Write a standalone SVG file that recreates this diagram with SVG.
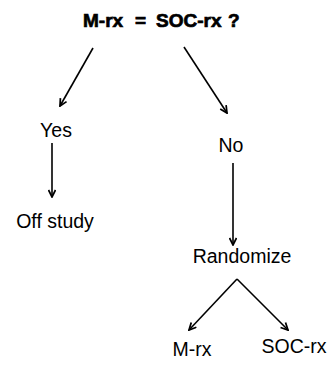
<svg xmlns="http://www.w3.org/2000/svg" width="331" height="379" viewBox="0 0 331 379">
<defs>
<style>
text{font-family:"Liberation Sans",Arial,sans-serif;font-size:19.5px;fill:#000;text-anchor:middle}
.title{font-weight:bold;font-size:19px;text-anchor:start;stroke:#000;stroke-width:0.7}
line{stroke:#000;stroke-width:1.6;fill:none;marker-end:url(#ah)}
</style>
<marker id="ah" viewBox="0 0 10 10" refX="9" refY="5" markerWidth="5.5" markerHeight="5.5" orient="auto" markerUnits="strokeWidth">
<path d="M1,1 L9,5 L1,9" fill="none" stroke="#000" stroke-width="2"/>
</marker>
</defs>
<rect width="331" height="379" fill="#fff"/>
<g id="connectors">
<line x1="93" y1="48" x2="60" y2="106"/>
<line x1="184" y1="47" x2="227" y2="113"/>
<line x1="52" y1="143" x2="52" y2="197"/>
<line x1="233" y1="163" x2="233" y2="245"/>
<line x1="237" y1="279" x2="189" y2="330"/>
<line x1="237" y1="279" x2="288" y2="330"/>
</g>
<g id="q">
<text class="title" x="83" y="27">M-rx</text>
<text class="title" x="135" y="27">=</text>
<text class="title" x="156" y="27">SOC-rx</text>
<text class="title" x="228" y="27">?</text>
</g>
<g id="yes"><text x="56" y="137">Yes</text></g>
<g id="no"><text x="231" y="152">No</text></g>
<g id="off"><text x="55" y="228">Off study</text></g>
<g id="rand"><text x="242" y="263">Randomize</text></g>
<g id="mrx"><text x="192" y="356">M-rx</text></g>
<g id="socrx"><text x="294" y="353">SOC-rx</text></g>
</svg>
